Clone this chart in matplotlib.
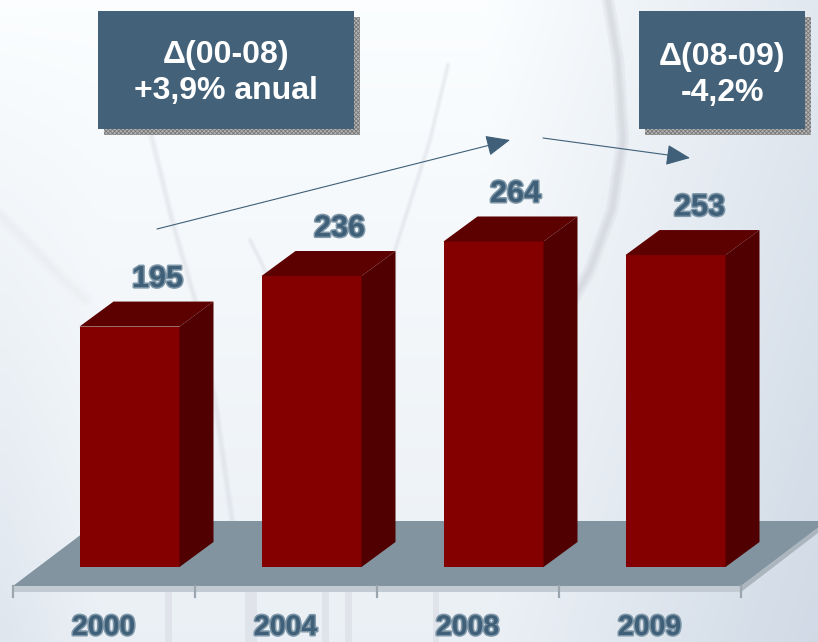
import numpy as np
import matplotlib
matplotlib.use("Agg")
import matplotlib.pyplot as plt
from matplotlib.patches import Polygon, Rectangle
import matplotlib.patheffects as pe

years = ["2000", "2004", "2008", "2009"]
values = [195, 236, 264, 253]
box_texts = ["Δ(00-08)\n+3,9% anual", "Δ(08-09)\n-4,2%"]

W, H = 818, 642
BLUE = "#3f6078"
plt.rcParams["font.family"] = ["Liberation Sans", "DejaVu Sans"]
plt.rcParams["hatch.linewidth"] = 0.6
fig = plt.figure(figsize=(W / 100, H / 100), dpi=100)

# pixel-space layer: background, floor, callouts
bg = fig.add_axes([0, 0, 1, 1])
bg.set_xlim(0, W); bg.set_ylim(H, 0); bg.axis("off")
yy, xx = np.mgrid[0:1:60j, 0:1:80j]
shade = np.clip(0.55 * np.clip(xx - 0.6, 0, 1) / 0.4 + 0.35 * yy + 0.25 * np.clip(0.12 - xx, 0, 1) / 0.12 * yy, 0, 1)
c0, c1 = np.array([0.985, 0.995, 1.0]), np.array([0.80, 0.84, 0.89])
img = c0 + (c1 - c0)[None, None, :] * shade[..., None]
bg.imshow(img, extent=(0, W, H, 0), aspect="auto", interpolation="bicubic", zorder=0)


def soft(xs, ys, col="#d5d9df", w=6.0, a=0.22):
    # soft-edged background stroke, built from a few widening translucent lines
    for k in [1.0, 0.6, 0.3]:
        bg.plot(xs, ys, color=col, lw=w * k, alpha=a, solid_capstyle="round", zorder=1)


soft([150, 172, 195, 215, 232], [130, 220, 300, 400, 520], w=5, a=0.16)
soft([448, 430, 395, 385], [65, 140, 250, 520], w=4, a=0.16)
soft([250, 280, 300, 325], [240, 300, 400, 520], w=4, a=0.16)
soft([608, 618, 623, 612, 590, 545, 510], [0, 60, 140, 210, 270, 350, 420], col="#c8ccd2", w=9)
soft([0, 40, 85], [215, 255, 300], col="#e2e6ea", w=10, a=0.12)
for x0, wd in [(165, 7), (245, 12), (322, 7), (345, 7), (433, 6)]:
    bg.add_patch(Rectangle((x0, 592), wd, 50, color="#d9dde3", alpha=0.6, lw=0, zorder=1))

bg.add_patch(Polygon([(13, 586), (99, 521), (827, 521), (741, 586)], color="#82949f", lw=0, zorder=2))
bg.add_patch(Polygon([(13, 586), (741, 586), (741, 592), (13, 592)], color="#c3cbd2", lw=0, zorder=2))
bg.add_patch(Polygon([(741, 586), (827, 521), (827, 526), (741, 592)], color="#aab5bd", lw=0, zorder=2))
for x in [13, 195, 377, 559, 741]:
    bg.plot([x, x], [586, 597], color="#9aa6af", lw=1.6, zorder=3)

for (x0, x1), txt, yc in zip([(98, 354), (639, 805)], box_texts, [73, 75]):
    bg.add_patch(Rectangle((x0 + 6, 17), x1 - x0, 118, facecolor="#b5b5b5", edgecolor="#777777",
                           hatch="xxxxxxxx", lw=0, zorder=4))
    bg.add_patch(Rectangle((x0, 11), x1 - x0, 118, color="#436178", lw=0, zorder=5))
    bg.text((x0 + x1) / 2, yc, txt, color="white", fontsize=23, fontweight="bold",
            ha="center", va="center", linespacing=1.27, zorder=6)

for p0, p1 in [((157, 229), (510, 140)), ((543, 138), (690, 158))]:
    bg.annotate("", xy=p1, xytext=p0, zorder=6,
                arrowprops=dict(arrowstyle="-|>,head_length=1.5,head_width=0.65", color=BLUE, lw=0.8,
                                shrinkA=0, shrinkB=0))

# data layer: 1 category = 182 px, 1 unit = 1.233 px, baseline at y pixel 567
ax = fig.add_axes([0, 0, 1, 1], facecolor="none")
ax.set_xlim(-129.5 / 182, (W - 129.5) / 182)
ax.set_ylim((567 - H) / 1.233, 567 / 1.233)
ax.axis("off")
x = np.arange(len(values))
bw, dx, dy = 100 / 182, 34 / 182, 25 / 1.233
ax.bar(x, values, width=bw, color="#840000", edgecolor="none", zorder=4)
hal = [pe.withStroke(linewidth=2.2, foreground="#7f97a8")]
label_dx = [28, 28, 22, 24]
for xi, v, yr, ldx in zip(x, values, years, label_dx):
    l, r = xi - bw / 2, xi + bw / 2
    ax.add_patch(Polygon([(l, v), (l + dx, v + dy), (r + dx, v + dy), (r, v)], color="#5c0000", lw=0, zorder=4))
    ax.add_patch(Polygon([(r, 0), (r + dx, dy), (r + dx, v + dy), (r, v)], color="#500000", lw=0, zorder=4))
    ax.text(xi + ldx / 182, v + 38.5, str(v), color=BLUE, fontsize=22, fontweight="bold",
            ha="center", va="center", path_effects=hal, zorder=6)
    ax.text(xi - 26 / 182, (567 - 628) / 1.233, yr, color=BLUE, fontsize=20.5, fontweight="bold",
            ha="center", va="center", path_effects=hal, zorder=6)

fig.savefig("out.png", dpi=100)
